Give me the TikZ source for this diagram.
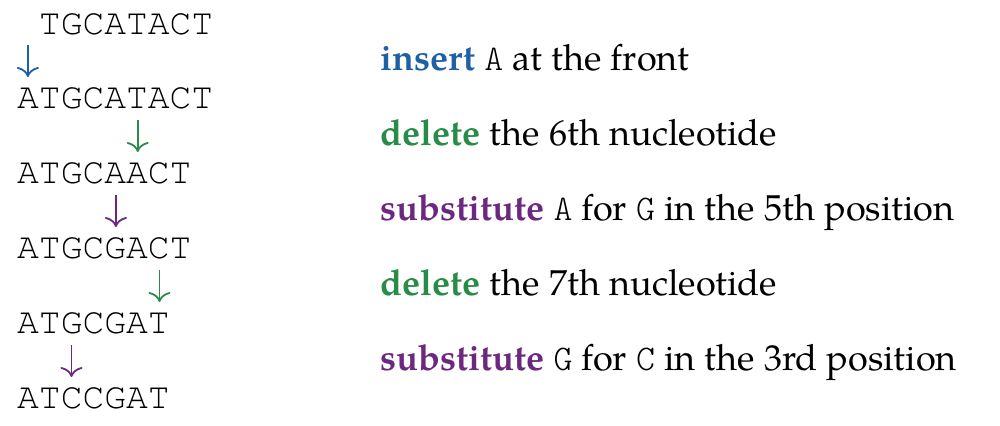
\documentclass[tikz,border=0pt]{standalone}
\usepackage{fontspec}
\setmainfont{TeX Gyre Pagella}
\setmonofont{Latin Modern Mono Light}
\newfontfamily\dnafont{TeX Gyre Cursor}
\usetikzlibrary{arrows.meta}
\definecolor{insblue}{RGB}{30,96,165}
\definecolor{delgreen}{RGB}{40,140,72}
\definecolor{subpurple}{RGB}{108,40,128}
\begin{document}
\begin{tikzpicture}[x=1bp,y=-1bp,
  dna/.style={font=\fontsize{36.3bp}{40bp}\dnafont, inner sep=0pt, anchor=base west},
  desc/.style={font=\fontsize{36.1bp}{40bp}\selectfont, inner sep=0pt, anchor=base west},
  edit/.style={line width=1.8bp, -{Computer Modern Rightarrow[length=10bp,width=22bp]}}]
\useasboundingbox (0,0) rectangle (1000,425);
% sequences
\node[dna] (r1) at (38.8,34) {TGCATACT};
\node[dna] (r2) at (17,108) {ATGCATACT};
\node[dna] (r3) at (17,183) {ATGCAACT};
\node[dna] (r4) at (17,258) {ATGCGACT};
\node[dna] (r5) at (17,333) {ATGCGAT};
\node[dna] (r6) at (17,408) {ATCCGAT};
% arrow ends
\coordinate (a1s) at (27.9,45);  \coordinate (a1e) at (27.9,77);
\coordinate (a2s) at (137.7,120); \coordinate (a2e) at (137.7,152);
\coordinate (a3s) at (115.9,195); \coordinate (a3e) at (115.9,227);
\coordinate (a4s) at (159.5,270); \coordinate (a4e) at (159.5,302);
\coordinate (a5s) at (71.5,345);  \coordinate (a5e) at (71.5,377);
\draw[edit, insblue] (a1s) -- (a1e);
\draw[edit, delgreen] (a2s) -- (a2e);
\draw[edit, subpurple] (a3s) -- (a3e);
\draw[edit, delgreen] (a4s) -- (a4e);
\draw[edit, subpurple] (a5s) -- (a5e);
% descriptions
\node[desc] (d1) at (380,70) {\textcolor{insblue}{\textbf{insert}} \texttt{A} at the front};
\node[desc] (d2) at (380,145) {\textcolor{delgreen}{\textbf{delete}} the 6th nucleotide};
\node[desc] (d3) at (380,220) {\textcolor{subpurple}{\textbf{substitute}} \texttt{A} for \texttt{G} in the 5th position};
\node[desc] (d4) at (380,295) {\textcolor{delgreen}{\textbf{delete}} the 7th nucleotide};
\node[desc] (d5) at (380,370) {\textcolor{subpurple}{\textbf{substitute}} \texttt{G} for \texttt{C} in the 3rd position};
\end{tikzpicture}
\end{document}
